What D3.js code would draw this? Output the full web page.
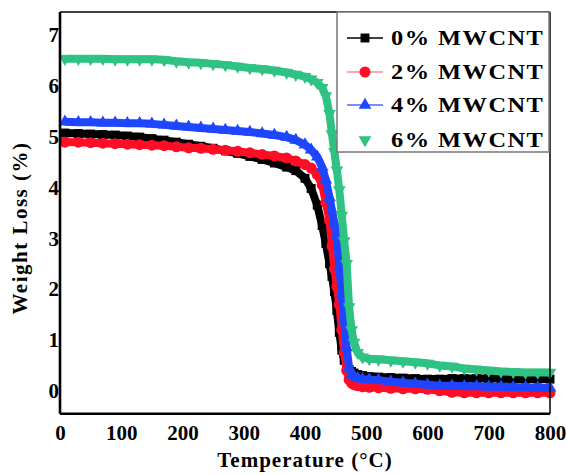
<!DOCTYPE html>
<html>
<head>
<meta charset="utf-8">
<script src="https://cdn.jsdelivr.net/npm/d3@7"></script>
<style>
  body { margin: 0; background: #fff; }
  svg { display: block; }
  text { font-family: "Liberation Serif", "Times New Roman", serif; font-weight: bold; }
</style>
</head>
<body>
<svg id="chart" width="567" height="475"></svg>
<script>
// Temperatures (°C) shared by all series
const temps = [8, 30, 50, 70, 90, 110, 130, 150, 170, 190, 210, 230, 250, 270, 290, 310, 330, 350, 370, 385,
  400, 410, 420, 428, 434, 440, 444, 448, 452, 456, 460, 464, 468, 472, 476, 480, 486, 494, 505, 520,
  540, 560, 580, 600, 620, 640, 660, 680, 700, 720, 740, 760, 780, 800];

const mwcnt0 = [5.07, 5.06, 5.05, 5.04, 5.03, 5.01, 4.99, 4.96, 4.93, 4.89, 4.85, 4.81, 4.77, 4.72, 4.67, 4.61, 4.55, 4.48, 4.40, 4.33,
  4.18, 3.98, 3.65, 3.25, 2.90, 2.50, 2.25, 1.95, 1.58, 1.15, 0.80, 0.60, 0.48, 0.42, 0.38, 0.35, 0.32, 0.30, 0.28, 0.27,
  0.26, 0.25, 0.24, 0.23, 0.23, 0.24, 0.24, 0.24, 0.24, 0.24, 0.23, 0.23, 0.23, 0.23];

const mwcnt2 = [4.89, 4.89, 4.88, 4.87, 4.86, 4.85, 4.84, 4.83, 4.82, 4.80, 4.78, 4.77, 4.75, 4.73, 4.71, 4.68, 4.65, 4.62, 4.58, 4.52,
  4.45, 4.38, 4.25, 4.05, 3.70, 3.35, 2.85, 2.40, 2.05, 1.70, 1.20, 0.75, 0.40, 0.22, 0.15, 0.12, 0.10, 0.08, 0.07, 0.06,
  0.05, 0.04, 0.04, 0.03, 0.00, -0.03, -0.04, -0.04, -0.04, -0.04, -0.04, -0.04, -0.04, -0.04];

const mwcnt4 = [5.29, 5.28, 5.28, 5.27, 5.27, 5.26, 5.26, 5.25, 5.23, 5.21, 5.19, 5.17, 5.15, 5.13, 5.11, 5.09, 5.06, 5.03, 4.99, 4.93,
  4.84, 4.74, 4.60, 4.40, 4.15, 3.80, 3.55, 3.30, 3.05, 2.45, 1.90, 1.40, 0.85, 0.45, 0.32, 0.28, 0.25, 0.23, 0.22, 0.21,
  0.18, 0.16, 0.14, 0.12, 0.10, 0.10, 0.09, 0.09, 0.08, 0.08, 0.07, 0.07, 0.06, 0.06];

const mwcnt6 = [6.53, 6.53, 6.53, 6.53, 6.52, 6.52, 6.52, 6.52, 6.51, 6.48, 6.46, 6.45, 6.43, 6.41, 6.38, 6.35, 6.33, 6.30, 6.26, 6.22,
  6.18, 6.13, 6.06, 5.96, 5.80, 5.45, 5.05, 4.70, 4.34, 3.95, 3.45, 2.95, 2.50, 1.65, 1.20, 0.95, 0.75, 0.66, 0.63, 0.62,
  0.60, 0.58, 0.56, 0.54, 0.50, 0.48, 0.44, 0.42, 0.40, 0.38, 0.37, 0.36, 0.36, 0.36];

const seriesNames = ['0% MWCNT', '2% MWCNT', '4% MWCNT', '6% MWCNT'];
const xTicks = [0, 100, 200, 300, 400, 500, 600, 700, 800];
const yTicks = [0, 1, 2, 3, 4, 5, 6, 7];

const series = [
  { name: seriesNames[0], values: mwcnt0, color: '#000000', line: '#000000', shape: d3.symbolSquare, size: 80 },
  { name: seriesNames[1], values: mwcnt2, color: '#ff0d25', line: '#ff8a8a', shape: d3.symbolCircle, size: 95 },
  { name: seriesNames[2], values: mwcnt4, color: '#1f45ff', line: '#4a68ff', shape: d3.symbolTriangle, size: 70 },
  { name: seriesNames[3], values: mwcnt6, color: '#2ec283', line: null, shape: d3.symbolTriangle, size: 70, flip: true },
];

const svg = d3.select('#chart');
const margin = { top: 12, right: 17, bottom: 62, left: 60 };
const width = 567 - margin.left - margin.right;
const height = 475 - margin.top - margin.bottom + 0.7;

const x = d3.scaleLinear().domain([0, 800]).range([0, width]);
const y = d3.scaleLinear().domain([-0.45, 7.45]).range([height, 0]);

const g = svg.append('g').attr('transform', 'translate(' + margin.left + ',' + margin.top + ')');

// Curves: thick band under the markers
const line = d3.line()
  .x((d, i) => x(temps[i]))
  .y((d) => y(d));

series.forEach((s) => {
  g.append('path')
    .datum(s.values)
    .attr('d', line)
    .attr('fill', 'none')
    .attr('stroke', s.color)
    .attr('stroke-width', 8)
    .attr('stroke-linejoin', 'round');

  g.append('g')
    .selectAll('path')
    .data(s.values)
    .enter().append('path')
    .attr('d', d3.symbol().type(s.shape).size(s.size))
    .attr('transform', (d, i) => 'translate(' + x(temps[i]) + ',' + y(d) + ')' + (s.flip ? ' rotate(180)' : ''))
    .attr('fill', s.color);
});

// Axes (labels only, no tick marks)
const xAxis = g.append('g')
  .attr('transform', 'translate(0,' + height + ')')
  .call(d3.axisBottom(x).tickValues(xTicks).tickSize(0).tickPadding(6));
xAxis.select('.domain').remove();
xAxis.selectAll('text')
  .attr('font-size', 21)
  .attr('font-family', '"Liberation Serif", serif')
  .attr('font-weight', 'bold')
  .attr('fill', '#000')
  .attr('dy', '0.95em');

const yAxis = g.append('g')
  .call(d3.axisLeft(y).tickValues(yTicks).tickSize(0).tickPadding(1));
yAxis.select('.domain').remove();
yAxis.selectAll('text')
  .attr('font-size', 21)
  .attr('font-family', '"Liberation Serif", serif')
  .attr('font-weight', 'bold')
  .attr('fill', '#000');

// Frame
g.append('line').attr('x1', 0).attr('x2', width).attr('y1', 0).attr('y2', 0)
  .attr('stroke', '#000').attr('stroke-width', 1.5);
g.append('line').attr('x1', width).attr('x2', width).attr('y1', 0).attr('y2', height)
  .attr('stroke', '#000').attr('stroke-width', 1.5);
g.append('line').attr('x1', 0).attr('x2', 0).attr('y1', 0).attr('y2', height)
  .attr('stroke', '#000').attr('stroke-width', 2.6);
g.append('line').attr('x1', 0).attr('x2', width).attr('y1', height).attr('y2', height)
  .attr('stroke', '#000').attr('stroke-width', 2.6);

// Axis titles
svg.append('text')
  .attr('x', 305)
  .attr('y', 467)
  .attr('text-anchor', 'middle')
  .attr('font-size', 21)
  .attr('letter-spacing', 1)
  .text('Temperature (°C)');

svg.append('text')
  .attr('transform', 'translate(27,228) rotate(-90)')
  .attr('text-anchor', 'middle')
  .attr('font-size', 21)
  .attr('letter-spacing', 1.5)
  .text('Weight Loss (%)');

// Legend
const legend = svg.append('g').attr('transform', 'translate(337,12)');
legend.append('rect')
  .attr('width', 212)
  .attr('height', 140)
  .attr('fill', '#fff')
  .attr('stroke', '#777')
  .attr('stroke-width', 1.5);

const rowY = [26, 60, 93, 128];
series.forEach((s, i) => {
  const row = legend.append('g').attr('transform', 'translate(0,' + rowY[i] + ')');
  if (s.line) {
    row.append('line')
      .attr('x1', 10).attr('x2', 46)
      .attr('stroke', s.line).attr('stroke-width', 1.3);
  }
  row.append('path')
    .attr('d', d3.symbol().type(s.shape).size(s.size))
    .attr('transform', 'translate(28,0)' + (s.flip ? ' rotate(180)' : ''))
    .attr('fill', s.color);
  // text in the original is stretched horizontally
  row.append('text')
    .attr('transform', 'translate(54,7) scale(1.22,1)')
    .attr('font-size', 20)
    .attr('letter-spacing', 1.2)
    .text(s.name);
});
</script>
</body>
</html>
